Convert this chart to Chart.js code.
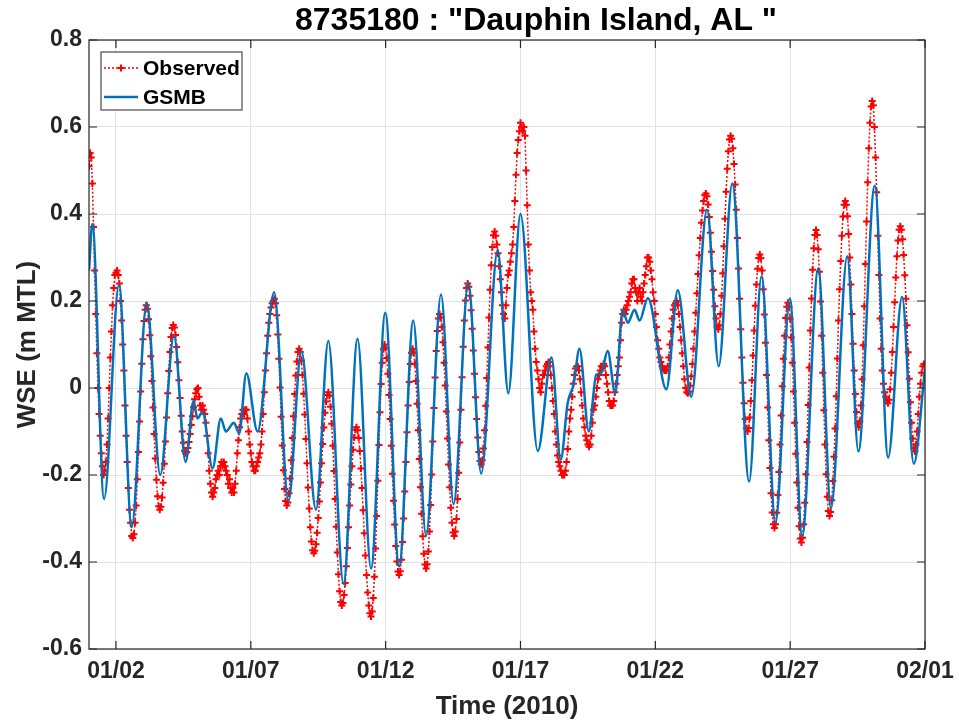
<!DOCTYPE html>
<html>
<head>
<meta charset="utf-8">
<title>8735180 Dauphin Island, AL</title>
<script src="https://cdn.jsdelivr.net/npm/chart.js@4.4.1/dist/chart.umd.min.js"></script>
<style>
  html, body { margin: 0; padding: 0; background: #fff; }
  canvas { display: block; }
</style>
</head>
<body>
<canvas id="myChart" width="959" height="723"></canvas>
<script>
// x values are hours since 2010-01-01 00:00
const chartTitle = '8735180 : "Dauphin Island, AL "';
const tickHours = [24, 144, 264, 384, 504, 624, 744];
const tickLabels = ['01/02', '01/07', '01/12', '01/17', '01/22', '01/27', '02/01'];

// Observed water level, hourly from hour 0
const observedStart = 0;
const observedWse = [
  0.51, 0.54, 0.53, 0.47, 0.37, 0.27, 0.17, 0.08, 0.0, -0.06, -0.11, -0.15, -0.18, -0.2,          // h0-13
  -0.19, -0.17, -0.13, -0.07, 0.0, 0.07, 0.13, 0.19, 0.23, 0.26, 0.265, 0.27,                    // h14-25
  0.26, 0.24, 0.2, 0.155, 0.1, 0.04, -0.04, -0.11, -0.17, -0.23, -0.28, -0.31, -0.34, -0.345,     // h26-39
  -0.336, -0.31, -0.27, -0.21, -0.147, -0.077, -0.008, 0.056, 0.112, 0.154, 0.18, 0.19,          // h40-51
  0.182, 0.158, 0.121, 0.073, 0.016, -0.045, -0.106, -0.162, -0.211, -0.249, -0.272, -0.28,      // h52-63
  -0.273, -0.252, -0.218, -0.174, -0.123, -0.068, -0.012, 0.039, 0.083, 0.117, 0.138, 0.145,     // h64-75
  0.139, 0.122, 0.094, 0.059, 0.018, -0.023, -0.064, -0.1, -0.126, -0.144, -0.15,                // h76-86
  -0.147, -0.138, -0.124, -0.106, -0.085, -0.065, -0.044, -0.026, -0.012, -0.003, 0.0,           // h87-97
  -0.02, -0.04, -0.05, -0.04, -0.05, -0.06, -0.08, -0.11, -0.15, -0.19, -0.22, -0.24, -0.25,     // h98-110
  -0.24, -0.23, -0.21, -0.2, -0.19, -0.2, -0.18, -0.17, -0.18, -0.17, -0.18, -0.19, -0.2, -0.22,  // h111-124
  -0.21, -0.23, -0.24, -0.23, -0.24, -0.22, -0.19, -0.15, -0.12, -0.09, -0.07, -0.06, -0.05, -0.06, // h125-138
  -0.05, -0.05, -0.07, -0.1, -0.13, -0.15, -0.17, -0.18, -0.19, -0.19, -0.18, -0.17, -0.16, -0.15, // h139-152
  -0.13, -0.1, -0.06, -0.01, 0.04, 0.08, 0.12, 0.15, 0.17, 0.185, 0.195, 0.2, 0.205,              // h153-165
  0.195, 0.167, 0.123, 0.067, 0.001, -0.066, -0.132, -0.189, -0.232, -0.26, -0.27,               // h166-176
  -0.263, -0.242, -0.208, -0.166, -0.115, -0.065, -0.014, 0.029, 0.061, 0.083, 0.09,             // h177-187
  0.083, 0.063, 0.03, -0.013, -0.061, -0.117, -0.173, -0.229, -0.277, -0.32, -0.353, -0.373, -0.38, // h188-200
  -0.374, -0.359, -0.333, -0.299, -0.261, -0.217, -0.173, -0.129, -0.091, -0.057, -0.031, -0.016, -0.01, // h201-213
  -0.018, -0.043, -0.082, -0.133, -0.191, -0.255, -0.319, -0.378, -0.428, -0.467, -0.492, -0.5,  // h214-225
  -0.494, -0.476, -0.448, -0.41, -0.368, -0.32, -0.27, -0.222, -0.18, -0.142, -0.114, -0.096, -0.09, // h226-238
  -0.097, -0.115, -0.145, -0.185, -0.23, -0.281, -0.334, -0.385, -0.43, -0.47, -0.5, -0.518, -0.525, // h239-251
  -0.514, -0.483, -0.434, -0.369, -0.294, -0.213, -0.131, -0.056, 0.009, 0.058, 0.089, 0.1,      // h252-263
  0.092, 0.069, 0.033, -0.016, -0.071, -0.133, -0.197, -0.259, -0.314, -0.363, -0.399, -0.422, -0.43, // h264-276
  -0.421, -0.395, -0.354, -0.3, -0.238, -0.17, -0.102, -0.04, 0.014, 0.055, 0.081, 0.09,         // h277-288
  0.081, 0.056, 0.016, -0.036, -0.097, -0.163, -0.228, -0.289, -0.341, -0.381, -0.406, -0.415,   // h289-300
  -0.405, -0.376, -0.33, -0.269, -0.199, -0.123, -0.046, 0.024, 0.085, 0.131, 0.16, 0.17,        // h301-312
  0.162, 0.14, 0.105, 0.058, 0.006, -0.054, -0.116, -0.176, -0.228, -0.275, -0.31, -0.332, -0.34, // h313-325
  -0.33, -0.301, -0.255, -0.195, -0.125, -0.05, 0.025, 0.095, 0.155, 0.201, 0.23, 0.24,          // h326-337
  0.233, 0.212, 0.179, 0.136, 0.086, 0.033, -0.021, -0.071, -0.114, -0.147, -0.168, -0.175,      // h338-349
  -0.166, -0.139, -0.097, -0.041, 0.023, 0.093, 0.162, 0.226, 0.282, 0.324, 0.351, 0.36,         // h350-361
  0.35, 0.33, 0.31, 0.28, 0.25, 0.22, 0.19, 0.17, 0.16,                                          // h362-370
  0.19, 0.23, 0.26, 0.27, 0.29, 0.31, 0.33, 0.37, 0.43, 0.49, 0.54, 0.57, 0.59, 0.61, 0.6, 0.59,  // h371-386
  0.6, 0.58, 0.5, 0.42, 0.33, 0.27, 0.22, 0.2, 0.18, 0.13, 0.09, 0.06, 0.04, 0.02, 0.0, -0.01,    // h387-402
  0.01, 0.03, 0.03, 0.04, 0.05, 0.055, 0.06, 0.05, 0.03, 0.0, -0.03, -0.06, -0.1, -0.13, -0.155,  // h403-417
  -0.17, -0.18, -0.19, -0.2, -0.2, -0.2, -0.19,                                                  // h418-424
  -0.17, -0.14, -0.1, -0.07, -0.05, -0.02, 0.01, 0.03, 0.045, 0.05, 0.05, 0.04, 0.02, -0.01,      // h425-438
  -0.04, -0.07, -0.09, -0.11, -0.12, -0.13, -0.135, -0.13, -0.11, -0.08, -0.05, -0.04, -0.02, 0.0, // h439-452
  0.02, 0.03, 0.04, 0.05, 0.05, 0.055, 0.05, 0.03, 0.01, -0.01, -0.03, -0.04, -0.04, -0.04,       // h453-466
  -0.03, -0.01, 0.01, 0.03, 0.05, 0.07, 0.11, 0.15, 0.17, 0.18, 0.17, 0.18, 0.19, 0.2, 0.21, 0.22, // h467-482
  0.24, 0.25, 0.25, 0.23, 0.22, 0.2, 0.22, 0.23, 0.21, 0.2, 0.22, 0.24, 0.26, 0.28, 0.3, 0.3,     // h483-498
  0.29, 0.27, 0.25, 0.22, 0.2, 0.17, 0.14, 0.11, 0.09, 0.07, 0.06, 0.05, 0.045, 0.04, 0.04, 0.04, // h499-514
  0.05, 0.07, 0.1, 0.13, 0.16, 0.18, 0.19, 0.195, 0.2, 0.19, 0.17, 0.14, 0.11, 0.08, 0.05, 0.02,  // h515-530
  0.0, -0.01, -0.012,                                                                            // h531-533
  -0.008, 0.005, 0.027, 0.055, 0.09, 0.13, 0.173, 0.218, 0.262, 0.305, 0.345, 0.38, 0.408, 0.43, 0.443, 0.447, // h534-549
  0.441, 0.422, 0.393, 0.357, 0.313, 0.269, 0.226, 0.188, 0.16, 0.141, 0.135,                    // h550-560
  0.144, 0.17, 0.212, 0.264, 0.326, 0.389, 0.451, 0.504, 0.544, 0.571, 0.58,                     // h561-571
  0.573, 0.551, 0.515, 0.468, 0.41, 0.345, 0.275, 0.205, 0.135, 0.07, 0.012, -0.035, -0.071, -0.093, -0.1, // h572-586
  -0.092, -0.068, -0.03, 0.018, 0.075, 0.132, 0.189, 0.238, 0.274, 0.299, 0.307,                 // h587-597
  0.298, 0.27, 0.227, 0.169, 0.104, 0.03, -0.045, -0.12, -0.184, -0.242, -0.286, -0.313, -0.322, // h598-610
  -0.313, -0.287, -0.246, -0.193, -0.13, -0.063, 0.004, 0.067, 0.12, 0.161, 0.187, 0.196,        // h611-622
  0.187, 0.159, 0.116, 0.058, -0.008, -0.08, -0.151, -0.217, -0.275, -0.318, -0.346, -0.355,     // h623-634
  -0.344, -0.313, -0.264, -0.198, -0.124, -0.039, 0.047, 0.132, 0.206, 0.272, 0.321, 0.352, 0.363, // h635-647
  0.352, 0.319, 0.267, 0.199, 0.12, 0.035, -0.051, -0.13, -0.198, -0.25, -0.283, -0.294,         // h648-659
  -0.285, -0.258, -0.214, -0.158, -0.093, -0.019, 0.068, 0.155, 0.227, 0.292, 0.35, 0.394, 0.421, 0.43, // h660-673
  0.421, 0.395, 0.354, 0.3, 0.238, 0.17, 0.102, 0.04, -0.014, -0.055, -0.081, -0.09,             // h674-685
  -0.077, -0.04, 0.02, 0.098, 0.188, 0.285, 0.383, 0.473, 0.551, 0.61, 0.647, 0.66,              // h686-697
  0.65, 0.6, 0.53, 0.45, 0.35, 0.26, 0.16, 0.09, 0.04, 0.01, -0.01, -0.02, -0.03, -0.035,        // h698-711
  -0.027, -0.003, 0.035, 0.083, 0.14, 0.197, 0.254, 0.303, 0.339, 0.364, 0.372,                  // h712-722
  0.364, 0.342, 0.306, 0.259, 0.205, 0.144, 0.082, 0.021, -0.033, -0.08, -0.116, -0.138, -0.146, // h723-735
  -0.13, -0.1, -0.06, -0.02, 0.01, 0.035, 0.05, 0.055                                            // h736-743
];

// GSMB model, turning points and shoulders (hours, m MTL)
const gsmbHours = [
  0, 3, 13.4, 26.7, 38, 51.4, 63.4, 75.6, 86, 93, 96.5, 101, 110, 117.3, 121.8, 129, 133.7, 140,
  150, 164.8, 177.5, 189, 202, 213, 226.5, 239, 251, 263.7, 276, 288.6, 300, 313.3, 324.5, 337.6,
  349, 363.7, 373.2, 384, 399.4, 411.6, 419.8, 426, 431.4, 436.5, 444.8, 451.4, 455.8, 461.6,
  468.3, 475, 479.5, 485.5, 490, 497.4, 513.8, 524, 536, 550, 560.4, 572.5, 587.5, 598.5, 611,
  623.7, 634.7, 649, 660.4, 674.8, 684.7, 699.3, 711.2, 723.6, 734, 744
];
const gsmbWse = [
  0.27, 0.377, -0.255, 0.238, -0.32, 0.196, -0.2, 0.12, -0.17, -0.03, -0.07, -0.055, -0.185, -0.07, -0.1, -0.08, -0.105, 0.034,
  -0.1, 0.22, -0.26, 0.085, -0.28, 0.108, -0.45, 0.113, -0.415, 0.173, -0.41, 0.155, -0.34, 0.215, -0.267, 0.243,
  -0.197, 0.317, -0.012, 0.4, -0.145, 0.07, -0.165, -0.035, 0.01, 0.09, -0.1, 0.03, 0.034, 0.085,
  -0.012, 0.18, 0.15, 0.18, 0.155, 0.207, -0.003, 0.225, -0.02, 0.41, 0.05, 0.47, -0.215, 0.257, -0.31,
  0.206, -0.34, 0.275, -0.276, 0.303, -0.146, 0.465, -0.16, 0.21, -0.174, 0.044
];

const fontFamily = "'Liberation Sans', Arial, Helvetica, sans-serif";
const textColor = '#262626';

// MATLAB-like frame: box, inward ticks, legend and title
const matlabFrame = {
  id: 'matlabFrame',
  afterDraw(chart) {
    const { ctx, chartArea: a, scales } = chart;
    const x = scales.x, y = scales.y;
    const tl = 8;
    ctx.save();
    ctx.strokeStyle = textColor;
    ctx.lineWidth = 1.2;
    ctx.strokeRect(a.left, a.top, a.right - a.left, a.bottom - a.top);
    ctx.beginPath();
    tickHours.forEach(h => {
      const px = x.getPixelForValue(h);
      ctx.moveTo(px, a.bottom); ctx.lineTo(px, a.bottom - tl);
      ctx.moveTo(px, a.top); ctx.lineTo(px, a.top + tl);
    });
    y.ticks.forEach(t => {
      const py = y.getPixelForValue(t.value);
      ctx.moveTo(a.left, py); ctx.lineTo(a.left + tl, py);
      ctx.moveTo(a.right, py); ctx.lineTo(a.right - tl, py);
    });
    ctx.stroke();

    // legend box
    const lx = a.left + 12, ly = a.top + 12, lw = 141, lh = 58;
    ctx.fillStyle = '#fff';
    ctx.fillRect(lx, ly, lw, lh);
    ctx.strokeStyle = '#4a4a4a';
    ctx.lineWidth = 1.2;
    ctx.strokeRect(lx, ly, lw, lh);
    const ds = chart.data.datasets;
    const rows = [ly + 16, ly + 45];
    ds.forEach((d, i) => {
      const cy = rows[i];
      ctx.save();
      ctx.strokeStyle = d.borderColor;
      ctx.lineWidth = d.borderWidth;
      ctx.setLineDash(d.borderDash || []);
      ctx.beginPath();
      ctx.moveTo(lx + 3, cy); ctx.lineTo(lx + 37, cy);
      ctx.stroke();
      ctx.restore();
      if (d.pointRadius > 0) {
        ctx.strokeStyle = d.pointBorderColor;
        ctx.lineWidth = d.pointBorderWidth;
        const cx = lx + 20, r = d.pointRadius;
        ctx.beginPath();
        ctx.moveTo(cx - r, cy); ctx.lineTo(cx + r, cy);
        ctx.moveTo(cx, cy - r); ctx.lineTo(cx, cy + r);
        ctx.stroke();
      }
      ctx.fillStyle = '#000';
      ctx.font = 'bold 21px ' + fontFamily;
      ctx.textAlign = 'left';
      ctx.textBaseline = 'middle';
      ctx.fillText(d.label, lx + 42, cy + 1);
    });

    // title
    ctx.fillStyle = '#000';
    ctx.font = 'bold 32px ' + fontFamily;
    ctx.textAlign = 'center';
    ctx.textBaseline = 'alphabetic';
    ctx.fillText(chartTitle, 536, 30);
    ctx.restore();
  }
};

const ctx = document.getElementById('myChart').getContext('2d');

const myChart = new Chart(ctx, {
  type: 'line',
  data: {
    datasets: [{
      label: 'Observed',
      data: observedWse.map((v, i) => ({ x: observedStart + i, y: v })),
      borderColor: '#ff0000',
      borderWidth: 1.5,
      borderDash: [2, 2],
      pointStyle: 'cross',
      pointRadius: 3.5,
      pointBorderWidth: 2,
      pointBorderColor: '#ff0000',
      pointBackgroundColor: '#ff0000',
      tension: 0,
      order: 2
    }, {
      label: 'GSMB',
      data: gsmbHours.map((h, i) => ({ x: h, y: gsmbWse[i] })),
      borderColor: '#0072bd',
      borderWidth: 2.5,
      pointRadius: 0,
      cubicInterpolationMode: 'monotone',
      order: 1
    }]
  },
  options: {
    responsive: false,
    animation: false,
    devicePixelRatio: 1,
    layout: { padding: { top: 40, right: 34, bottom: 0, left: 0 } },
    plugins: {
      legend: { display: false },
      title: { display: false },
      tooltip: { enabled: false }
    },
    scales: {
      x: {
        type: 'linear',
        min: 0,
        max: 744,
        afterBuildTicks: s => { s.ticks = tickHours.map(v => ({ value: v })); },
        afterFit: s => { s.height = 74; s.paddingLeft = 0; s.paddingRight = 0; },
        grid: { color: '#e2e2e2', lineWidth: 1, drawTicks: false },
        border: { display: false },
        ticks: {
          autoSkip: false,
          maxRotation: 0,
          padding: 9,
          color: textColor,
          font: { family: fontFamily, size: 23, weight: 'bold' },
          callback: v => tickLabels[tickHours.indexOf(v)]
        },
        title: {
          display: true,
          text: 'Time (2010)',
          color: textColor,
          font: { family: fontFamily, size: 26, weight: 'bold' },
          padding: { top: 0, bottom: 1 }
        }
      },
      y: {
        min: -0.6,
        max: 0.8,
        afterFit: s => { s.width = 89; s.paddingTop = 0; s.paddingBottom = 0; },
        grid: { color: '#e2e2e2', lineWidth: 1, drawTicks: false },
        border: { display: false },
        ticks: {
          stepSize: 0.2,
          padding: 7,
          color: textColor,
          font: { family: fontFamily, size: 23, weight: 'bold' },
          callback: v => Math.abs(v) < 1e-9 ? '0' : v.toFixed(1)
        },
        title: {
          display: true,
          text: 'WSE (m MTL)',
          color: textColor,
          font: { family: fontFamily, size: 26, weight: 'bold' },
          padding: { top: 12, bottom: 0 }
        }
      }
    }
  },
  plugins: [matlabFrame]
});
</script>
</body>
</html>
